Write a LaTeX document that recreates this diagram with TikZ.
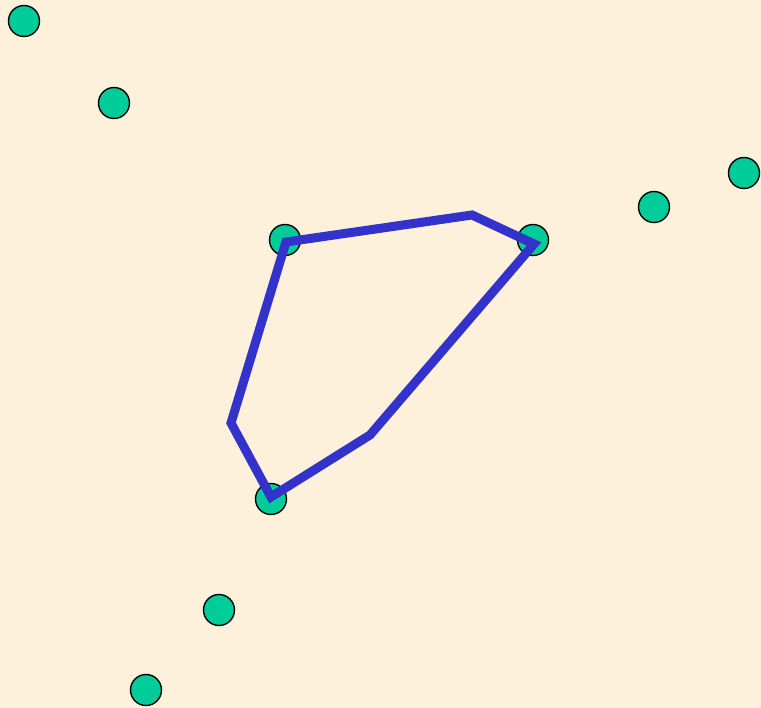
\documentclass[tikz,border=0pt]{standalone}
\definecolor{bgc}{RGB}{253,241,219}
\definecolor{dotc}{RGB}{0,204,153}
\definecolor{polyc}{RGB}{51,51,204}
\tikzset{
  dot/.style={circle,draw=black,line width=1.4pt,fill=dotc,minimum size=31pt,inner sep=0pt},
  poly/.style={draw=polyc,line width=9pt,line join=miter}
}
\begin{document}
\begin{tikzpicture}[x=1pt,y=-1pt]
\fill[bgc] (0,0) rectangle (761,708);
\useasboundingbox (0,0) rectangle (761,708);
\node[dot] (p1) at (24,21) {};
\node[dot] (p2) at (114,103) {};
\node[dot] (p3) at (654,207) {};
\node[dot] (p4) at (744,173) {};
\node[dot] (p5) at (285,240) {};
\node[dot] (p6) at (533,240) {};
\node[dot] (p7) at (271,499) {};
\node[dot] (p8) at (219,610) {};
\node[dot] (p9) at (146,690) {};
\coordinate (v1) at (286,242);
\coordinate (v2) at (472,215);
\coordinate (v3) at (534,244);
\coordinate (v4) at (370,435);
\coordinate (v5) at (271,497);
\coordinate (v6) at (231,423);
\draw[poly] (v1) -- (v2) -- (v3) -- (v4) -- (v5) -- (v6) -- cycle;
\end{tikzpicture}
\end{document}
